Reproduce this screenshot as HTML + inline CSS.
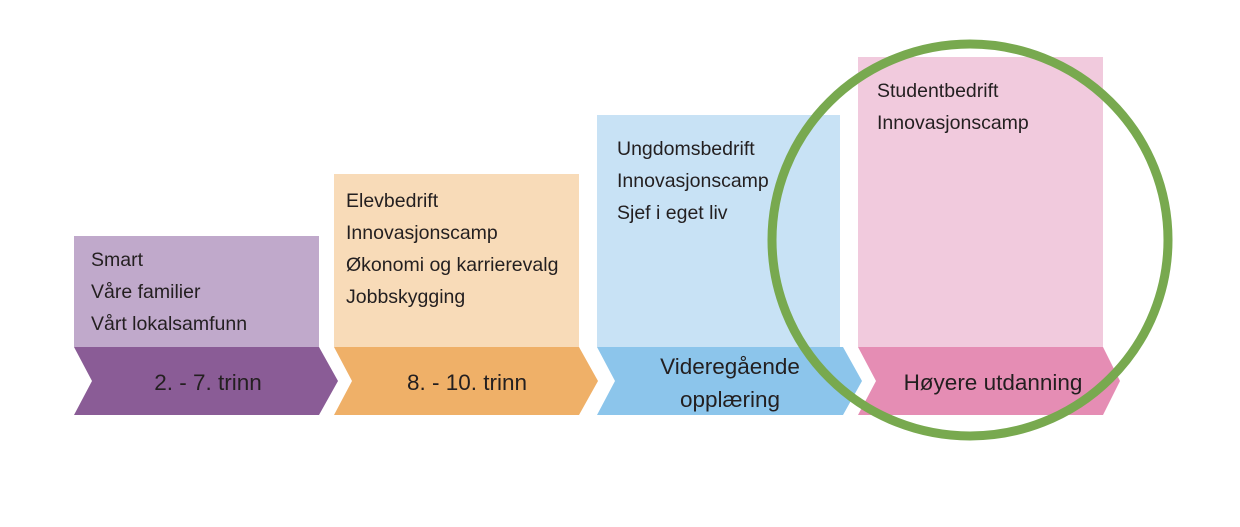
<!DOCTYPE html>
<html><head><meta charset="utf-8"><style>
body{margin:0;background:#fff;}
svg text{font-family:"Liberation Sans",sans-serif;fill:#231f20;}
</style></head><body>
<svg width="1240" height="522" viewBox="0 0 1240 522" xmlns="http://www.w3.org/2000/svg">
<rect x="74" y="236" width="245" height="111" fill="#c0a9cb"/>
<rect x="334" y="174" width="245" height="173" fill="#f8dbb8"/>
<rect x="597" y="115" width="243" height="232" fill="#c8e2f5"/>
<rect x="858" y="57" width="245" height="290" fill="#f1cadd"/>
<polygon points="74,347 319,347 338,381 319,415 74,415 92,381" fill="#8a5c96"/>
<polygon points="334,347 579,347 598,381 579,415 334,415 352,381" fill="#efb068"/>
<polygon points="597,347 843,347 862,381 843,415 597,415 615,381" fill="#8cc5eb"/>
<polygon points="858,347 1103,347 1120,381 1103,415 858,415 876,381" fill="#e58db4"/>
<g font-size="19.5">
<text x="91" y="266">Smart</text>
<text x="91" y="298">Våre familier</text>
<text x="91" y="330">Vårt lokalsamfunn</text>
<text x="346" y="207">Elevbedrift</text>
<text x="346" y="239">Innovasjonscamp</text>
<text x="346" y="271">Økonomi og karrierevalg</text>
<text x="346" y="303">Jobbskygging</text>
<text x="617" y="155">Ungdomsbedrift</text>
<text x="617" y="187">Innovasjonscamp</text>
<text x="617" y="219">Sjef i eget liv</text>
<text x="877" y="97">Studentbedrift</text>
<text x="877" y="129">Innovasjonscamp</text>
</g>
<g font-size="22.5" text-anchor="middle">
<text x="208" y="390">2. - 7. trinn</text>
<text x="467" y="390">8. - 10. trinn</text>
<text x="730" y="374">Videregående</text>
<text x="730" y="407">opplæring</text>
<text x="993" y="390">Høyere utdanning</text>
</g>
<ellipse cx="970" cy="240" rx="198" ry="196" fill="none" stroke="#78a94f" stroke-width="9"/>
</svg>
</body></html>
